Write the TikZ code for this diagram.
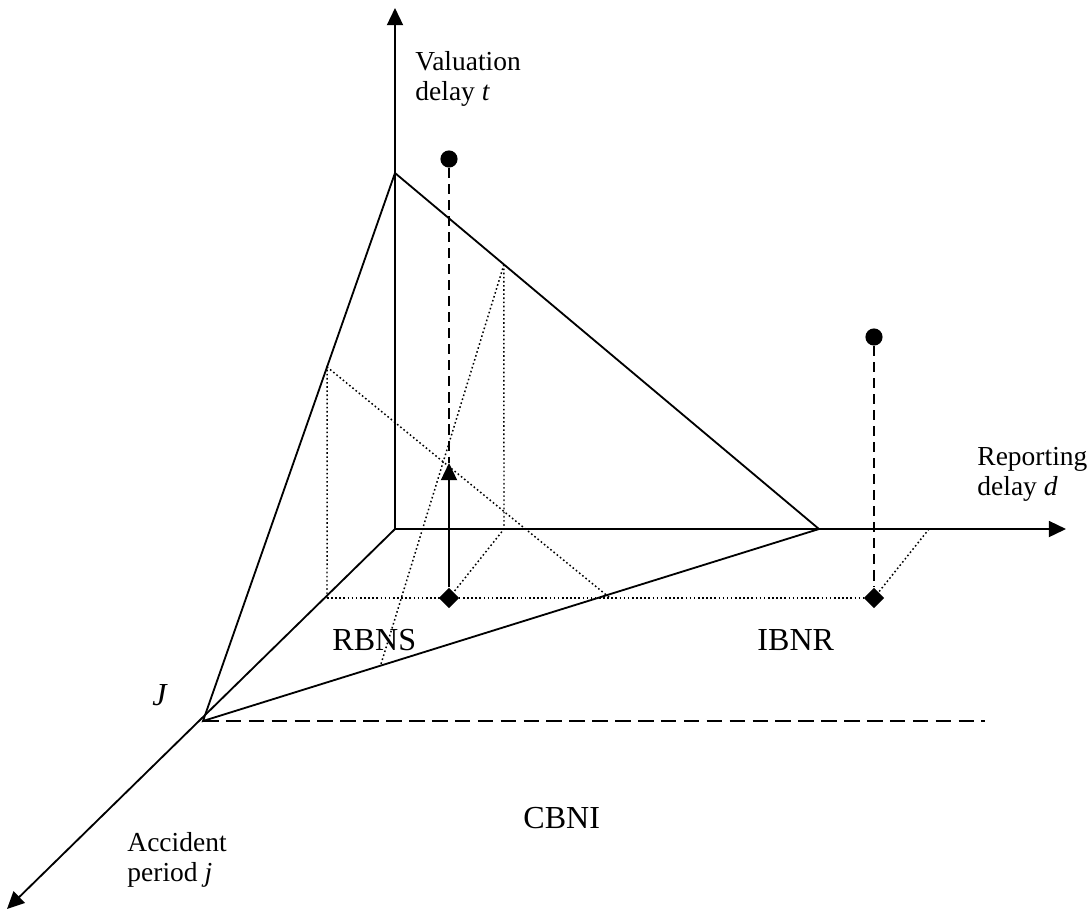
\documentclass[tikz,border=0pt]{standalone}
\usepackage{fontspec}
\setmainfont{Liberation Serif}
\usetikzlibrary{arrows.meta,shapes.geometric,calc}

\begin{document}
\begin{tikzpicture}[x=0.01535cm, y=-0.01535cm,
  axis/.style={line width=0.8pt, -{Triangle[length=7.5pt,width=7pt]}},
  edge/.style={line width=0.8pt},
  guide/.style={line width=0.65pt, dash pattern=on 0.7pt off 1.1pt},
  drop/.style={line width=0.8pt, dash pattern=on 4.4pt off 2.6pt},
  bound/.style={line width=0.8pt, dash pattern=on 6.8pt off 3.2pt},
  ball/.style={circle, fill, inner sep=0pt, minimum size=7.5pt},
  diam/.style={diamond, fill, inner sep=0pt, minimum size=9pt},
  lab/.style={font=\fontsize{12}{13}\selectfont, align=left, inner sep=0pt, anchor=base west},
  area/.style={font=\fontsize{14}{16}\selectfont, inner sep=0pt, anchor=base west}]
\useasboundingbox (0,0) rectangle (1091,913);
% axes
\coordinate (O) at (395,529);
\coordinate (tend) at (395,8);
\coordinate (dend) at (1066,529);
\coordinate (jend) at (7,909);
\coordinate (T) at (395,173);
\coordinate (D) at (819,529);
\coordinate (J) at (203,721);
\draw[axis] (O) -- (tend);
\draw[axis] (O) -- (dend);
\draw[axis] (O) -- (jend);
% triangle
\draw[edge] (T) -- (D) -- (J) -- cycle;
\coordinate (Jend) at (985,721);
\draw[bound] (J) -- (Jend);
% guides
\coordinate (A1) at ($(T)!0.354!(J)$);
\coordinate (A2) at (327,598);
\coordinate (B1) at ($(T)!0.257!(D)$);
\coordinate (B2) at (504,529);
\coordinate (C1) at (610,598);
\coordinate (E) at (381,664);
\coordinate (F) at (929,529);
\node[diam] (Rd) at (449,598) {};
\node[diam] (Sd) at (874,598) {};
\node[ball] (Rc) at (449,159) {};
\node[ball] (Sc) at (874,337) {};
\coordinate (Rt) at (449,463);
\draw[guide] (A2) -- (A1) -- (C1);
\draw[guide] (A2) -- (Sd);
\draw[guide] (B1) -- (B2) -- (Rd);
\draw[guide] (B1) -- (E);
\draw[guide] (F) -- (Sd);
% claims
\draw[drop] (Rc) -- (Rt);
\draw[drop] (Sc) -- (Sd);
\draw[axis] (Rd) -- (Rt);
% labels
\node[lab] (tlab) at (415,100) {Valuation\\delay \textit{t}};
\node[lab] (dlab) at (977,495) {Reporting\\delay \textit{d}};
\node[lab] (jlab) at (127,881) {Accident\\period \textit{j}};
\node[area] (Jlab) at (152,705) {\textit{J}};
\node[area] (rbns) at (332,650) {RBNS};
\node[area] (ibnr) at (757,650) {IBNR};
\node[area] (cbni) at (523,828) {CBNI};
\end{tikzpicture}
\end{document}
